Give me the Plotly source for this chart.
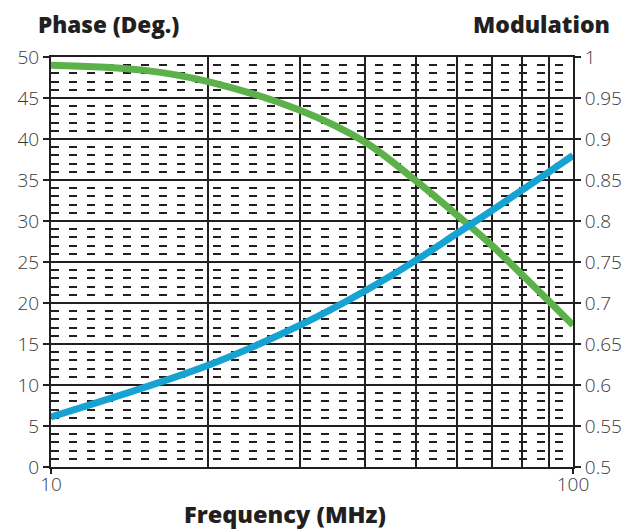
import plotly.graph_objects as go

freq_phase = [10, 15, 20, 30, 40, 50, 60, 70, 80, 90, 100]
phase_deg = [49.0, 48.4, 47.0, 43.5, 39.6, 34.9, 30.7, 27.0, 23.4, 20.2, 17.3]

freq_mod = [10, 20, 30, 40, 50, 60, 70, 80, 90, 100]
modulation = [0.561, 0.624, 0.673, 0.715, 0.752, 0.785, 0.813, 0.838, 0.860, 0.880]

x_major = [10, 100]
x_minor = [20, 30, 40, 50, 60, 70, 80, 90]

GRID = "#231f20"
TICKFONT = dict(family="Open Sans", size=19, color="#3a3a3a", weight=300)


def title_font(size):
    return dict(family="Open Sans", size=size, color="#231f20", weight=800)


fig = go.Figure()
fig.add_trace(go.Scatter(x=freq_phase, y=phase_deg, mode="lines", line=dict(color="#5cb14b", width=7, shape="spline"),
                         yaxis="y", showlegend=False, hoverinfo="skip"))
fig.add_trace(go.Scatter(x=freq_mod, y=modulation, mode="lines", line=dict(color="#17a3d2", width=7, shape="spline"),
                         yaxis="y2", showlegend=False, hoverinfo="skip"))

fig.update_layout(
    width=637, height=531,
    margin=dict(l=51, r=64, t=57, b=64, autoexpand=False),
    plot_bgcolor="white", paper_bgcolor="white",
    xaxis=dict(
        type="log", range=[1, 2],
        tickvals=x_major, ticktext=[str(v) for v in x_major],
        ticks="outside", ticklen=5, tickwidth=2, tickcolor=GRID,
        ticklabelstandoff=-6,
        showgrid=False, zeroline=False,
        showline=True, linecolor=GRID, linewidth=2, mirror=True,
        tickfont=TICKFONT,
        minor=dict(tickvals=x_minor, showgrid=True, gridcolor=GRID, gridwidth=2, ticks=""),
    ),
    yaxis=dict(
        range=[0, 50], dtick=5, tick0=0,
        ticks="outside", ticklen=6, tickwidth=2, tickcolor=GRID,
        showgrid=True, gridcolor=GRID, gridwidth=2, zeroline=False,
        showline=True, linecolor=GRID, linewidth=2,
        tickfont=TICKFONT,
        minor=dict(dtick=1, showgrid=True, gridcolor=GRID, gridwidth=2, griddash="8px,10px", ticks=""),
    ),
    yaxis2=dict(
        range=[0.5, 1], dtick=0.05, tick0=0.5, overlaying="y", side="right",
        ticks="outside", ticklen=6, tickwidth=2, tickcolor=GRID,
        showgrid=False, zeroline=False,
        showline=True, linecolor=GRID, linewidth=2,
        tickfont=TICKFONT,
    ),
    annotations=[
        dict(text="Phase (Deg.)", xref="paper", yref="paper", x=-0.029, y=1.08, xanchor="left", yanchor="middle",
             showarrow=False, font=title_font(22.5)),
        dict(text="Modulation", xref="paper", yref="paper", x=1.075, y=1.08, xanchor="right", yanchor="middle",
             showarrow=False, font=title_font(23)),
        dict(text="Frequency (MHz)", xref="paper", yref="paper", x=0.448, y=-0.114, xanchor="center", yanchor="middle",
             showarrow=False, font=title_font(23.5)),
    ],
)

fig.write_html("out.html", config={"displayModeBar": False},
               post_script="document.body.style.margin='0';document.body.style.overflow='hidden';")
